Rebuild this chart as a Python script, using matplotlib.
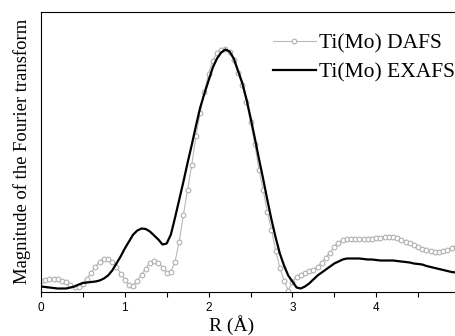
import numpy as np
import matplotlib
matplotlib.use('Agg')
import matplotlib.pyplot as plt

# R grid (Angstrom) and the two curves, arbitrary units
r = np.arange(100) * 0.05

dafs = [11, 12, 12.5, 13, 12.5, 11, 10, 7, 5, 5,
        8, 13, 19, 25, 30, 33, 33, 30, 25, 18,
        12, 7, 6, 11, 17, 23, 29, 31, 29, 24,
        19, 20, 30, 50, 77, 102, 127, 156, 179, 200,
        218, 231, 239, 242, 243, 240, 232, 219, 207, 190,
        170, 148, 122, 102, 80, 62, 41, 24, 11, 1,
        10, 15, 17, 19, 21, 22, 25, 29, 34, 39,
        45, 49, 52, 53, 53, 53, 53, 53, 53, 53,
        54, 54, 55, 55, 55, 54, 52, 50, 49, 47,
        45, 43, 42, 41, 40, 40, 41, 42, 44, 45]

exafs = [5, 4.5, 4, 3.5, 3, 3, 3, 4, 5, 7,
         8.5, 9, 9.5, 10, 11, 13, 16, 21, 28, 35,
         43, 50, 57, 61, 63, 62.5, 60, 56, 52, 47,
         48, 57, 74, 92, 110, 129, 147, 166, 184, 198,
         211, 224, 233, 239, 242, 240, 233, 221, 209, 193,
         174, 154, 133, 113, 92, 72, 54, 38, 26, 16,
         10, 4, 3, 5, 8, 12, 16, 19, 22, 25,
         28, 30, 32, 33, 33, 33, 33, 32.5, 32, 32,
         31.5, 31, 31, 31, 31, 30.5, 30, 29.5, 29, 28,
         27.5, 27, 25.5, 24.5, 23.5, 22.5, 21.5, 20.5, 19.5, 19]

xticks = [0, 1, 2, 3, 4]

fig = plt.figure(figsize=(4.55, 3.36), dpi=100)
ax = fig.add_axes([41/455, 1-291.5/336, 416/455, 280/336])

ax.plot(r, dafs, color='#b8b8b8', lw=0.8, marker='o', ms=3.4, mfc='white',
        mec='#b0b0b0', mew=0.8, label='Ti(Mo) DAFS')
ax.plot(r, exafs, color='black', lw=1.6, label='Ti(Mo) EXAFS')

ax.set_xlim(0, 416/83.8)
ax.set_ylim(0, 280)
ax.set_xticks(xticks)
ax.set_xticks(np.arange(0.5, 5, 1.0), minor=True)
ax.set_yticks([])
ax.tick_params(axis='x', which='both', direction='out', length=3.5, width=0.8,
               pad=4, labelsize=8.5)
for lab in ax.get_xticklabels():
    lab.set_family('Liberation Sans')
for s in ax.spines.values():
    s.set_linewidth(0.8)
ax.spines['right'].set_visible(False)

leg = ax.legend(loc='upper right', bbox_to_anchor=(1.0, 1-33/336),
                bbox_transform=fig.transFigure, frameon=False, numpoints=1,
                prop={'family': 'Liberation Serif', 'size': 15.5},
                handlelength=2.0, handletextpad=0.15, labelspacing=0.45,
                borderpad=0, borderaxespad=0)

fig.text(22/455, 1-151/336, 'Magnitude of the Fourier transform', rotation=90,
         ha='center', va='center', family='Liberation Serif', fontsize=13.4)
fig.text(232/455, 1/336, 'R (Å)', ha='center', va='bottom',
         family='Liberation Serif', fontsize=14)

fig.savefig('out.png', dpi=100)
